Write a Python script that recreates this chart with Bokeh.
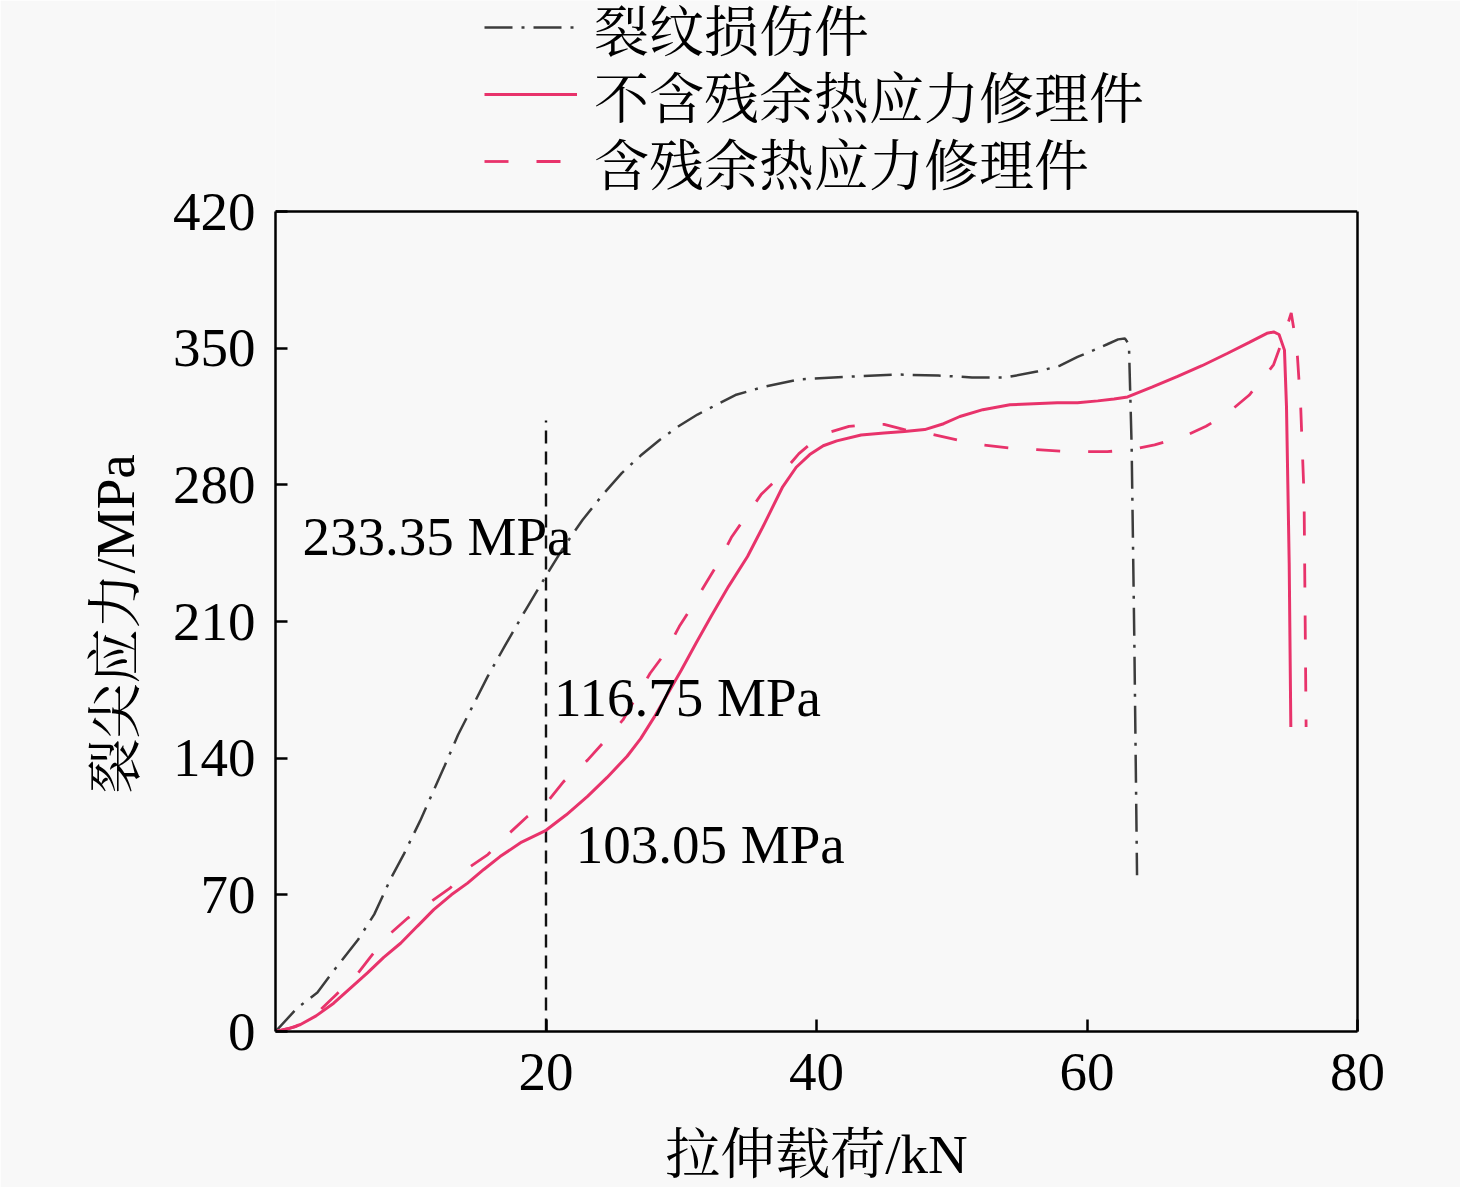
from bokeh.plotting import figure
from bokeh.models import (Range1d, FixedTicker, Legend, LegendItem, Label, Span,
                          LinearAxis, Title)
from bokeh.embed import file_html
from bokeh.resources import INLINE

# ---------------- data ----------------
crack_x = [0, 1.6, 3.1, 4.4, 6.1, 7.3, 8.5, 9.5, 10.7, 11.6, 12.5, 13.5, 14.6, 15.7, 17.0, 18.5,
           20.0, 21.3, 22.7, 24.2, 25.6, 27.0, 28.4, 29.8, 31.2, 32.6, 34.0, 36.0, 38.7, 42.7,
           46.0, 49.0, 51.5, 54.0, 56.3, 58.0, 59.3, 60.5, 61.5, 62.3, 62.8, 63.1, 63.3, 63.5, 63.7]
crack_y = [0, 12, 20, 32, 47, 60, 78, 91, 108, 122, 136, 152, 167, 182, 198, 216,
           233.35, 248, 262, 275, 286, 295, 303, 310, 316, 321, 326, 330, 334, 335.5,
           336.5, 336, 335, 335, 338, 341, 345.5, 349, 352, 354.5, 355, 352, 300, 200, 80]

norh_x = [0, 1.0, 1.85, 3.0, 4.3, 5.5, 6.8, 8.0, 9.25, 10.5, 11.7, 13.0, 14.2, 15.4, 16.6, 18.2,
          20.0, 21.5, 23.07, 24.5, 26.0, 27.0, 28.0, 29.0, 30.0, 31.1, 32.2, 33.5, 34.9, 36.0,
          37.5, 38.5, 39.5, 40.5, 41.5, 43.3, 45.0, 46.5, 48.0, 49.4, 50.6, 52.3, 54.3, 57.8,
          59.3, 60.8, 62.0, 63.0, 64.8, 66.7, 68.5, 70.4, 72.0, 73.3, 73.8, 74.2, 74.6, 74.75,
          74.85, 74.95, 75.07]
norh_y = [0, 1.5, 3.6, 8, 14.5, 22, 30, 38, 45.2, 54, 62.4, 70, 76, 83, 89.6, 97,
          103.05, 111, 120.4, 130, 141, 150, 161, 173, 185, 199, 212.6, 228, 243.3, 258,
          279, 289, 295.5, 300, 302.5, 305.5, 306.5, 307.3, 308.3, 311.3, 315, 318.5, 321, 322,
          322, 323, 324, 325, 330, 335.5, 341, 347.4, 353, 357.6, 358.3, 357, 349, 320,
          280, 240, 156]

rh_x = [0, 1.5, 3.0, 4.5, 6.0, 7.0, 8.3, 9.76, 11.5, 12.9, 14.4, 15.7, 17.2, 18.6, 20.0, 21.3,
        23.07, 24.2, 25.7, 27.7, 28.8, 29.85, 30.8, 31.9, 32.8, 33.7, 35.9, 37.1, 38.7, 39.9,
        41.0, 42.4, 43.8, 45.0, 46.5, 48.0, 50.4, 52.1, 54.3, 56.3, 58.6, 60.3, 61.5, 63.2,
        65.0, 67.2, 68.8, 70.4, 72.0, 73.3, 73.8, 74.5, 75.1, 75.3, 75.56, 75.8, 76.05, 76.2]
rh_y = [0, 2.5, 9, 19, 29, 38, 49, 58, 66.6, 73.4, 84.5, 90.6, 101, 110, 116.75, 128,
        139, 147.7, 159.7, 183.5, 193.8, 207.4, 217.7, 230.5, 240.7, 253, 275, 283, 296, 303,
        307, 309.9, 311, 311, 308.3, 306.8, 303, 300.6, 298.8, 298, 297, 297, 297, 298,
        300.5, 304.8, 310, 316.7, 326, 337, 341.6, 355, 368, 359.5, 345.7, 320, 274, 156]

marker_x = [20, 20]
marker_y = [0, 313]

series_names = ["裂纹损伤件", "不含残余热应力修理件", "含残余热应力修理件"]
notes = ["233.35 MPa", "116.75 MPa", "103.05 MPa"]
note_x = [2.0, 20.6, 22.2]
note_y = [253.5, 171.0, 96.0]

x_ticks = [20, 40, 60, 80]
y_ticks = [0, 70, 140, 210, 280, 350, 420]
X_MAX, Y_MAX = 80, 420
x_title = "拉伸载荷/kN"
y_title = "裂尖应力/MPa"

# ---------------- layout / style ----------------
FONT = "'Liberation Serif', 'Times New Roman', 'Noto Serif CJK SC', 'Noto Sans CJK SC', serif"
BG = "#f8f8f8"
PINK = "#e8336b"
DARK = "#3c3c3c"
FS = "55px"

W, H = 1460, 1187
LEFT, RIGHT, BOTTOM = 275, 103, 156
BOX_TOP = 211                      # pixel row of the 420 line (axes box top)
BOX_H = H - BOTTOM - BOX_TOP       # height of the axes box in pixels
# the frame reaches the top edge so that the legend above the box is drawn
y_end = Y_MAX * (H - BOTTOM) / BOX_H

p = figure(width=W, height=H, output_backend="svg", toolbar_location=None,
           x_range=Range1d(0, X_MAX), y_range=Range1d(0, y_end),
           min_border_left=LEFT, min_border_right=RIGHT, min_border_top=0,
           min_border_bottom=BOTTOM,
           background_fill_color=BG, border_fill_color=BG, outline_line_color=None)
p.grid.visible = False

def style_axis(ax):
    ax.axis_line_width = 2.5
    ax.axis_line_color = "black"
    ax.major_tick_in = 12
    ax.major_tick_out = 0
    ax.major_tick_line_width = 2.5
    ax.minor_tick_in = 0
    ax.minor_tick_out = 0
    ax.major_label_text_font = FONT
    ax.major_label_text_font_size = FS
    ax.major_label_text_color = "black"
    ax.axis_label_text_font = FONT
    ax.axis_label_text_font_size = FS
    ax.axis_label_text_font_style = "normal"
    ax.axis_label_text_color = "black"

style_axis(p.xaxis[0])
style_axis(p.yaxis[0])
p.xaxis.ticker = FixedTicker(ticks=x_ticks)
p.yaxis.ticker = FixedTicker(ticks=y_ticks)
p.yaxis.bounds = (0, Y_MAX)
p.xaxis.axis_label = x_title
p.xaxis.major_label_standoff = 22
p.xaxis.axis_label_standoff = 31
p.yaxis.major_label_standoff = 20

# y title placed along the axes box (not the taller frame)
p.add_layout(Title(text=y_title, text_font=FONT, text_font_size=FS,
                   text_font_style="normal", text_color="black",
                   align="left", vertical_align="bottom", offset=238, standoff=48),
             "left")

# right edge of the box
rax = LinearAxis(bounds=(0, Y_MAX), ticker=FixedTicker(ticks=[]),
                 axis_line_width=2.5, axis_line_color="black",
                 major_tick_in=0, major_tick_out=0, minor_tick_in=0, minor_tick_out=0,
                 major_label_text_font_size="0px")
p.add_layout(rax, "right")
# top edge of the box
p.add_layout(Span(location=Y_MAX, dimension="width", line_color="black", line_width=2.5))

styles = [dict(line_color=DARK, line_width=2.5, line_dash="28 9 3 9"),
          dict(line_color=PINK, line_width=3.0),
          dict(line_color=PINK, line_width=2.8, line_dash="24 28")]

p.line(marker_x, marker_y, line_color="#111111", line_width=2.4, line_dash="13 8")
r_crack = p.line(crack_x, crack_y, **styles[0])
r_rh = p.line(rh_x, rh_y, **styles[2])
r_norh = p.line(norh_x, norh_y, **styles[1])

for t, x, y in zip(notes, note_x, note_y):
    p.add_layout(Label(x=x, y=y, text=t, text_font=FONT, text_font_size=FS,
                       text_color="black", text_baseline="alphabetic"))

# legend rows (one legend per row, placed above the axes box)
ROW_H = 84
row_centers = [27, 94, 161]        # pixel rows from the top
for name, r, cy in zip(series_names, [r_crack, r_norh, r_rh], row_centers):
    lg = Legend(items=[LegendItem(label=name, renderers=[r])],
                location=(209, (H - BOTTOM) - cy - ROW_H // 2),
                glyph_width=93, glyph_height=ROW_H, label_height=ROW_H, label_standoff=17,
                padding=0, margin=0, spacing=0,
                border_line_color=None, background_fill_alpha=0,
                label_text_font=FONT, label_text_font_size=FS,
                label_text_color="black", label_text_baseline="middle")
    p.add_layout(lg)

open("out.html", "w").write(file_html(p, INLINE))
